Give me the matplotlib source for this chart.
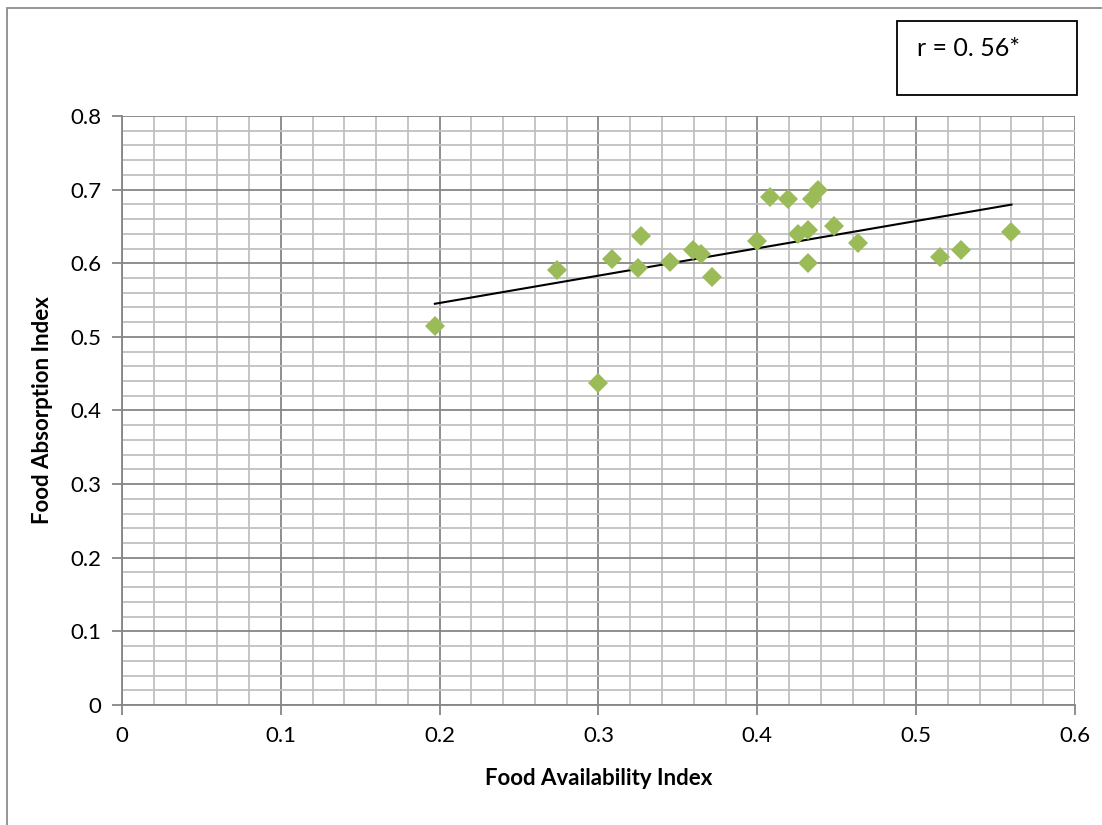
import numpy as np
import matplotlib.pyplot as plt
from matplotlib.patches import Rectangle
from matplotlib.ticker import MultipleLocator

# food availability vs food absorption
availability = [0.197, 0.300, 0.274, 0.3085, 0.325, 0.327, 0.345, 0.3595, 0.3645,
                0.3715, 0.400, 0.408, 0.419, 0.4256, 0.432, 0.432, 0.4345, 0.438,
                0.448, 0.4634, 0.515, 0.528, 0.560]
absorption = [0.515, 0.437, 0.591, 0.606, 0.594, 0.637, 0.602, 0.618, 0.613,
              0.581, 0.630, 0.690, 0.687, 0.640, 0.645, 0.600, 0.687, 0.6995,
              0.651, 0.6275, 0.6085, 0.618, 0.6425]
x_ticks = [0, 0.1, 0.2, 0.3, 0.4, 0.5, 0.6]
y_ticks = [0, 0.1, 0.2, 0.3, 0.4, 0.5, 0.6, 0.7, 0.8]

plt.rcParams['font.family'] = ['Lato', 'DejaVu Sans']

fig = plt.figure(figsize=(11.02, 8.25), dpi=100)
ax = fig.add_axes([0.1107, 0.1455, 0.8648, 0.7139])

x = np.array(availability)
y = np.array(absorption)
slope, icpt = np.polyfit(x, y, 1)
xs = np.array([x.min(), x.max()])
ax.plot(xs, slope * xs + icpt, color='black', lw=1.5, zorder=3)
ax.plot(x, y, 'D', color='#9BBB59', markersize=10, markeredgewidth=0, zorder=4)

ax.set_xlim(0, 0.6)
ax.set_ylim(0, 0.8)
ax.set_xticks(x_ticks)
ax.set_yticks(y_ticks)
ax.set_xticklabels(['0', '0.1', '0.2', '0.3', '0.4', '0.5', '0.6'])
ax.set_yticklabels(['0', '0.1', '0.2', '0.3', '0.4', '0.5', '0.6', '0.7', '0.8'])
ax.xaxis.set_minor_locator(MultipleLocator(0.02))
ax.yaxis.set_minor_locator(MultipleLocator(0.02))
ax.grid(which='major', color='#868686', lw=1.3, zorder=1)
ax.grid(which='minor', color='#c0c0c0', lw=1.3, zorder=0)
ax.set_axisbelow(True)
ax.tick_params(which='major', length=7, width=1.3, color='#868686',
               labelsize=16, pad=8)
ax.tick_params(which='minor', length=0)
for s in ['top', 'right']:
    ax.spines[s].set_visible(False)
for s in ['left', 'bottom']:
    ax.spines[s].set_color('#868686')
    ax.spines[s].set_linewidth(1.3)

ax.set_xlabel('Food Availability Index', fontsize=16, fontweight='bold', labelpad=16)
ax.set_ylabel('Food Absorption Index', fontsize=16, fontweight='bold', labelpad=12)

# outer chart border
fig.patches.append(Rectangle((7 / 1102, -0.1), 1.2, 1 - 8 / 825 + 0.1,
                             transform=fig.transFigure, fill=False,
                             edgecolor='#8c8c8c', lw=1.3))
# r box
fig.patches.append(Rectangle((897 / 1102, 1 - 95 / 825), 180 / 1102, 74 / 825,
                             transform=fig.transFigure, fill=False,
                             edgecolor='black', lw=1.3))
fig.text(917 / 1102, 1 - 48 / 825, 'r = 0. 56*', fontsize=18, va='center', ha='left')

fig.savefig('out.png', dpi=100)
